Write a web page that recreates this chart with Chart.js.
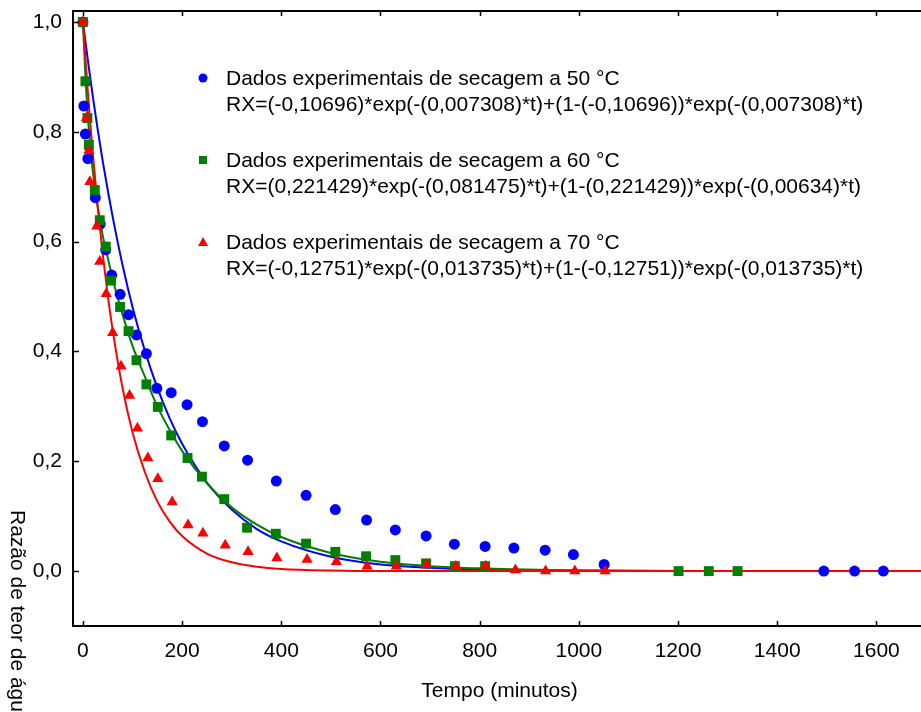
<!DOCTYPE html>
<html>
<head>
  <meta charset="utf-8">
  <title>Secagem - Razão de teor de água</title>
  <script src="https://cdn.jsdelivr.net/npm/chart.js@4.4.1/dist/chart.umd.min.js"></script>
  <style>
    html, body { margin: 0; padding: 0; background: #fff; overflow: hidden; }
    #wrap { width: 933px; height: 712px; }
  </style>
</head>
<body>
<div id="wrap"><canvas id="canvas" width="933" height="712"></canvas></div>
<script>
// pontos experimentais
var tempo50 = [0, 2, 5, 10, 25, 35, 46, 58, 75, 92, 108, 128, 149, 178, 210, 241, 285, 332, 390, 450, 509, 572, 630, 692, 749, 811, 869, 932, 989, 1051, 1494, 1556, 1614];
var rx50 = [1.0, 0.847, 0.796, 0.751, 0.680, 0.632, 0.585, 0.539, 0.504, 0.467, 0.430, 0.396, 0.333, 0.325, 0.303, 0.272, 0.228, 0.202, 0.164, 0.138, 0.112, 0.093, 0.075, 0.064, 0.049, 0.045, 0.042, 0.038, 0.030, 0.012, 0, 0, 0];

var tempo60 = [0, 5, 9, 12, 24, 34, 46, 57, 75, 92, 108, 128, 151, 178, 211, 240, 285, 331, 389, 450, 509, 571, 630, 692, 750, 811, 1201, 1262, 1320];
var rx60 = [1.0, 0.892, 0.825, 0.776, 0.694, 0.639, 0.591, 0.529, 0.481, 0.437, 0.384, 0.340, 0.299, 0.247, 0.206, 0.172, 0.131, 0.079, 0.068, 0.050, 0.035, 0.027, 0.020, 0.014, 0.009, 0.009, 0, 0, 0];

var tempo70 = [0, 7, 12, 14, 28, 34, 47, 60, 77, 94, 110, 131, 151, 180, 212, 242, 287, 333, 391, 452, 511, 573, 632, 693, 752, 812, 872, 933, 992, 1053];
var rx70 = [1.0, 0.825, 0.766, 0.709, 0.628, 0.564, 0.505, 0.434, 0.373, 0.320, 0.260, 0.206, 0.168, 0.126, 0.084, 0.069, 0.047, 0.035, 0.024, 0.021, 0.017, 0.009, 0.009, 0.012, 0.009, 0.009, 0.002, 0, 0, 0];

// curvas dos modelos
var tCurva50 = [0, 10, 20, 30, 40, 50, 60, 80, 100, 125, 150, 175, 200, 250, 300, 350, 400, 500, 600, 700, 800, 1000, 1200, 1700];
var rxCurva50 = [1.0, 0.930, 0.864, 0.803, 0.746, 0.694, 0.645, 0.557, 0.481, 0.401, 0.334, 0.278, 0.232, 0.161, 0.112, 0.077, 0.054, 0.026, 0.012, 0.006, 0.003, 0.001, 0, 0];

var tCurva60 = [0, 5, 10, 15, 20, 30, 40, 50, 60, 80, 100, 125, 150, 175, 200, 250, 300, 350, 400, 500, 600, 700, 800, 1000, 1200, 1700];
var rxCurva60 = [1.0, 0.902, 0.828, 0.773, 0.728, 0.662, 0.611, 0.571, 0.532, 0.467, 0.410, 0.354, 0.300, 0.257, 0.219, 0.160, 0.116, 0.085, 0.062, 0.033, 0.017, 0.009, 0.005, 0.001, 0, 0];

var tCurva70 = [0, 5, 10, 15, 20, 30, 40, 50, 60, 80, 100, 125, 150, 175, 200, 250, 300, 350, 400, 500, 600, 1700];
var rxCurva70 = [1.0, 0.934, 0.872, 0.814, 0.760, 0.662, 0.577, 0.503, 0.439, 0.333, 0.253, 0.180, 0.127, 0.090, 0.064, 0.032, 0.016, 0.008, 0.004, 0.001, 0, 0];

var legendaDados = [
  'Dados experimentais de secagem a 50 °C',
  'Dados experimentais de secagem a 60 °C',
  'Dados experimentais de secagem a 70 °C'
];
var legendaModelo = [
  'RX=(-0,10696)*exp(-(0,007308)*t)+(1-(-0,10696))*exp(-(0,007308)*t)',
  'RX=(0,221429)*exp(-(0,081475)*t)+(1-(0,221429))*exp(-(0,00634)*t)',
  'RX=(-0,12751)*exp(-(0,013735)*t)+(1-(-0,12751))*exp(-(0,013735)*t)'
];
var xTicks = [0, 200, 400, 600, 800, 1000, 1200, 1400, 1600];
var yTicks = [0, 0.2, 0.4, 0.6, 0.8, 1.0];

var cores = ['#0000ff', '#008000', '#ff0000'];
var FONTE = '"Liberation Sans", Arial, sans-serif';

function pares(xs, ys) {
  return xs.map(function(x, i) { return {x: x, y: ys[i]}; });
}

Chart.defaults.font.family = FONTE;
Chart.defaults.font.size = 21;
Chart.defaults.color = '#000';

// moldura, marcas internas, título do eixo y e legenda
var extras = {
  id: 'extras',
  afterDraw: function(chart) {
    var ctx = chart.ctx, a = chart.chartArea;
    var xs = chart.scales.x, ys = chart.scales.y;
    ctx.save();
    ctx.strokeStyle = '#000';
    ctx.lineWidth = 2;
    ctx.strokeRect(a.left, a.top, a.right - a.left, a.bottom - a.top);
    ctx.lineWidth = 1.5;
    ctx.beginPath();
    xTicks.forEach(function(v) {
      var px = Math.round(xs.getPixelForValue(v)) + 0.5;
      ctx.moveTo(px, a.bottom); ctx.lineTo(px, a.bottom - 5);
      ctx.moveTo(px, a.top); ctx.lineTo(px, a.top + 5);
    });
    yTicks.forEach(function(v) {
      var py = Math.round(ys.getPixelForValue(v)) + 0.5;
      ctx.moveTo(a.left, py); ctx.lineTo(a.left + 6, py);
    });
    ctx.stroke();

    // título do eixo y (lido de cima para baixo)
    ctx.save();
    ctx.translate(17, 510);
    ctx.rotate(Math.PI / 2);
    ctx.font = '21px ' + FONTE;
    ctx.fillStyle = '#000';
    ctx.textAlign = 'left';
    ctx.textBaseline = 'middle';
    ctx.fillText('Razão de teor de água', 0, 0);
    ctx.restore();

    // legenda
    var linhas = [78, 160, 242];
    ctx.font = '21px ' + FONTE;
    ctx.textAlign = 'left';
    ctx.textBaseline = 'middle';
    for (var i = 0; i < 3; i++) {
      var y = linhas[i], mx = 203;
      ctx.fillStyle = cores[i];
      ctx.beginPath();
      if (i === 0) {
        ctx.arc(mx, y, 4.5, 0, Math.PI * 2);
      } else if (i === 1) {
        ctx.rect(mx - 4, y - 4, 8, 8);
      } else {
        ctx.moveTo(mx, y - 5); ctx.lineTo(mx + 5, y + 4); ctx.lineTo(mx - 5, y + 4); ctx.closePath();
      }
      ctx.fill();
      ctx.fillStyle = '#000';
      ctx.fillText(legendaDados[i], 226, y + 1);
      ctx.fillText(legendaModelo[i], 226, y + 27);
    }
    ctx.restore();
  }
};

var config = {
  type: 'scatter',
  data: {
    datasets: [
      { label: legendaDados[0], data: pares(tempo50, rx50), pointStyle: 'circle', pointRadius: 5.5,
        backgroundColor: cores[0], borderColor: cores[0], borderWidth: 0, order: 3 },
      { label: legendaDados[1], data: pares(tempo60, rx60), pointStyle: 'rect', pointRadius: 7,
        backgroundColor: cores[1], borderColor: cores[1], borderWidth: 0, order: 2 },
      { label: legendaDados[2], data: pares(tempo70, rx70), pointStyle: 'triangle', pointRadius: 6.5,
        backgroundColor: cores[2], borderColor: cores[2], borderWidth: 0, order: 1 },
      { label: 'modelo 50', data: pares(tCurva50, rxCurva50), showLine: true, pointRadius: 0,
        borderColor: cores[0], borderWidth: 2, cubicInterpolationMode: 'monotone', order: 6 },
      { label: 'modelo 60', data: pares(tCurva60, rxCurva60), showLine: true, pointRadius: 0,
        borderColor: cores[1], borderWidth: 2, cubicInterpolationMode: 'monotone', order: 5 },
      { label: 'modelo 70', data: pares(tCurva70, rxCurva70), showLine: true, pointRadius: 0,
        borderColor: cores[2], borderWidth: 2, cubicInterpolationMode: 'monotone', order: 4 }
    ]
  },
  options: {
    responsive: false,
    animation: false,
    layout: { padding: { top: 11, right: 0, left: 0, bottom: 0 } },
    plugins: {
      legend: { display: false },
      tooltip: { enabled: false }
    },
    scales: {
      x: {
        type: 'linear',
        min: -20,
        max: 1700,
        grid: { display: false, drawTicks: false },
        border: { display: false },
        afterBuildTicks: function(scale) {
          scale.ticks = xTicks.map(function(v) { return {value: v}; });
        },
        afterFit: function(scale) {
          scale.height = 86;
          scale.paddingLeft = 0;
          scale.paddingRight = 0;
        },
        ticks: {
          padding: 13, maxRotation: 0, autoSkip: false,
          callback: function(v) { return String(v); }
        },
        title: { display: true, text: 'Tempo (minutos)', padding: { top: 0, bottom: 8 } }
      },
      y: {
        type: 'linear',
        min: -0.1,
        max: 1.02,
        grid: { display: false, drawTicks: false },
        border: { display: false },
        afterBuildTicks: function(scale) {
          scale.ticks = yTicks.map(function(v) { return {value: v}; });
        },
        afterFit: function(scale) {
          scale.width = 73;
          scale.paddingTop = 0;
          scale.paddingBottom = 0;
        },
        ticks: {
          padding: 11,
          callback: function(v) { return v.toFixed(1).replace('.', ','); }
        }
      }
    }
  },
  plugins: [extras]
};

window.myChart = new Chart(document.getElementById('canvas'), config);
</script>
</body>
</html>
